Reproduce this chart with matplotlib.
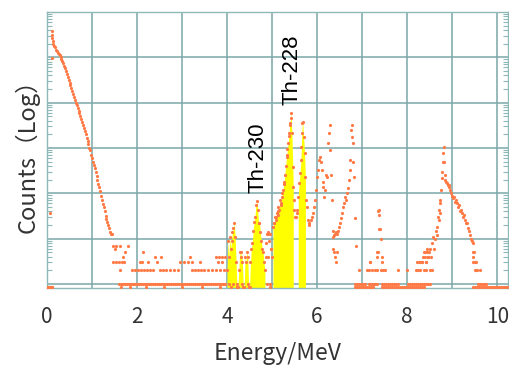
import matplotlib.pyplot as plt
import numpy as np

plt.rcParams['font.family'] = ['Noto Sans CJK JP', 'DejaVu Sans']

# --- spectrum (energy in MeV, counts) ---
# low-energy tail
decay_energy = [0.11, 0.12, 0.12, 0.13, 0.14, 0.16, 0.18, 0.20, 0.22, 0.24, 0.26, 0.28,
                0.30, 0.32, 0.34, 0.36, 0.38, 0.40, 0.42, 0.44, 0.46, 0.48, 0.50, 0.52,
                0.54, 0.56, 0.58, 0.60, 0.62, 0.64, 0.66, 0.68, 0.70, 0.72, 0.74, 0.76,
                0.78, 0.80, 0.82, 0.84, 0.86, 0.88, 0.90, 0.92, 0.94, 0.96, 0.98, 1.00,
                1.02, 1.04, 1.06, 1.08, 1.10, 1.12, 1.14, 1.16, 1.18, 1.20, 1.22, 1.24,
                1.26, 1.28, 1.30, 1.32, 1.34, 1.36, 1.38, 1.40, 1.42, 1.44]
decay_counts = [380000, 316000, 263000, 224000, 195000, 178000, 166000, 148000, 135000,
                126000, 120000, 112000, 102000, 93000, 83000, 74000, 66000, 58000, 49000,
                43000, 37000, 32000, 27500, 24000, 21000, 17800, 15500, 13500, 11500,
                10000, 8700, 7600, 6600, 5800, 5000, 4300, 3700, 3200, 2750, 2350, 2000,
                1660, 1410, 1200, 1020, 890, 720, 590, 490, 420, 355, 295, 240, 195, 162,
                135, 112, 89, 71, 59, 49, 40, 32, 27, 23, 20, 17, 14, 13, 13]
stray_energy = [0.11, 0.07]
stray_counts = [95000, 37]

# Th-230 region of interest (yellow)
th230_energy = [4.00, 4.02, 4.04, 4.06, 4.08, 4.10, 4.12, 4.14, 4.16, 4.18, 4.20, 4.22,
                4.24, 4.26, 4.28, 4.30, 4.32, 4.34, 4.36, 4.38, 4.40, 4.42, 4.44, 4.46,
                4.48, 4.50, 4.52, 4.54, 4.56, 4.58, 4.60, 4.62, 4.64, 4.66, 4.68, 4.70,
                4.72, 4.74, 4.76, 4.78, 4.80, 4.82, 4.84]
th230_counts = [2, 9, 4, 11, 6, 9, 14, 17, 22, 11, 3, 0, 0, 2, 5, 4, 5, 3, 0, 0, 4, 3,
                5, 4, 0, 0, 3, 6, 8, 15, 23, 30, 55, 67, 43, 22, 22, 14, 9, 6, 5, 3, 2]

# Th-228 regions of interest (yellow)
th228_energy = [5.02, 5.04, 5.05, 5.06, 5.08, 5.09, 5.10, 5.12, 5.13, 5.14, 5.16, 5.18,
                5.19, 5.20, 5.22, 5.23, 5.24, 5.26, 5.27, 5.28, 5.30, 5.32, 5.33, 5.34,
                5.36, 5.37, 5.38, 5.39, 5.40, 5.41, 5.42, 5.44, 5.46, 5.47]
th228_counts = [18, 22, 22, 30, 26, 30, 37, 33, 40, 50, 43, 71, 55, 61, 83, 100, 117,
                160, 180, 250, 400, 620, 700, 950, 1280, 1800, 2130, 3170, 3500, 4550,
                5890, 2130, 380, 138]
ra224_energy = [5.58, 5.60, 5.62, 5.64, 5.65, 5.66, 5.67, 5.68, 5.70, 5.72, 5.74]
ra224_counts = [83, 167, 278, 540, 1040, 2130, 3530, 3700, 1730, 770, 228]

# other peaks
mid_energy = [4.86, 4.86, 4.88, 4.90, 4.91, 4.92, 4.94, 4.96, 4.98, 5.00,
              5.48, 5.49, 5.51, 5.53, 5.55, 5.56,
              5.76, 5.78, 5.79, 5.81, 5.83, 5.86, 5.88, 5.91, 5.93, 5.96, 5.98,
              6.00, 6.02, 6.04, 6.06, 6.08, 6.10, 6.12, 6.14, 6.16, 6.18, 6.20, 6.22,
              6.24, 6.26, 6.28, 6.29, 6.31, 6.33,
              6.35, 6.36, 6.36, 6.38, 6.38, 6.40, 6.40, 6.42, 6.43, 6.44, 6.45, 6.47, 6.49,
              6.51, 6.53, 6.56, 6.58, 6.60, 6.62, 6.64, 6.67, 6.69, 6.71, 6.73, 6.74,
              6.76, 6.77, 6.78, 6.79, 6.80, 6.82, 6.84, 6.87]
mid_counts = [8, 4, 13, 13, 4, 14, 9, 13, 6, 4,
              71, 43, 30, 30, 37, 43,
              71, 50, 26, 20, 22, 26, 30, 37, 50, 71, 118,
              228, 325, 540, 625, 490, 325, 178, 137, 83, 118, 250, 228,
              1280, 2130, 3170, 890, 250, 71,
              15, 11, 6, 12, 5, 13, 4, 3, 14, 5, 13, 15, 18,
              22, 28, 37, 50, 61, 83, 71, 100, 130, 195, 325, 540,
              2460, 3170, 1730, 1280, 490, 228, 28, 7]
peak74_energy = [7.18, 7.33, 7.35, 7.36, 7.37, 7.38, 7.38, 7.39, 7.42, 7.44]
peak74_counts = [3, 2, 5, 40, 43, 33, 16, 16, 10, 4]
peak9_energy = [8.24, 8.29, 8.33, 8.36, 8.40, 8.42, 8.44, 8.47, 8.49, 8.51, 8.53, 8.56,
                8.58, 8.60, 8.62, 8.64, 8.66, 8.67, 8.69, 8.70, 8.71, 8.72, 8.73, 8.74,
                8.76, 8.77, 8.78, 8.79, 8.80, 8.81, 8.82, 8.84, 8.85, 8.87, 8.89, 8.91,
                8.93, 8.94, 8.96, 8.98, 9.00, 9.02, 9.04, 9.07, 9.09, 9.11, 9.13, 9.16,
                9.18, 9.20, 9.22, 9.24, 9.27, 9.29, 9.31, 9.33, 9.36, 9.38, 9.40, 9.42,
                9.44, 9.47, 9.49, 9.51, 9.53]
peak9_counts = [2, 3, 3, 4, 5, 3, 6, 4, 5, 6, 4, 8, 11, 6, 10, 15, 12, 18, 30, 26, 43,
                37, 71, 61, 118, 215, 300, 490, 770, 1040, 490, 250, 195, 178, 167, 150,
                137, 150, 118, 100, 89, 78, 83, 66, 71, 61, 50, 55, 40, 43, 37, 30, 33,
                26, 22, 22, 17, 15, 12, 10, 9, 8, 5, 3, 2]

# flat low-count channels, one list per count level
row0_energy = [0.00, 0.02, 0.04, 0.06, 0.08, 0.10, 0.12, 1.65, 1.85, 2.20, 2.60, 3.00,
               3.45, 3.85, 4.09, 4.21, 4.37, 4.49, 4.96,
               6.84, 6.89, 6.93, 6.98, 7.02, 7.07, 7.11, 7.16, 7.20, 7.24, 7.44, 7.49,
               7.53, 7.58, 7.62, 7.67, 7.71, 7.76, 7.80, 7.84, 7.89, 7.93, 7.98, 8.02,
               8.07, 8.11, 8.16, 8.20, 8.24, 8.29, 8.33, 8.38, 9.47, 9.51, 9.56, 9.60,
               9.64, 9.69, 9.73, 9.78, 9.82, 9.87, 9.91, 9.96, 10.00, 10.04, 10.09,
               10.13, 10.18, 10.22]
row1_energy = [1.60, 1.64, 1.69, 1.73, 1.78, 1.82, 1.87, 1.91, 1.96, 2.00, 2.04, 2.09,
               2.13, 2.18, 2.22, 2.27, 2.31, 2.36, 2.40, 2.44, 2.49, 2.53, 2.58, 2.62,
               2.67, 2.71, 2.76, 2.80, 2.84, 2.89, 2.93, 2.98, 3.02, 3.07, 3.11, 3.16,
               3.20, 3.24, 3.29, 3.33, 3.38, 3.42, 3.47, 3.51, 3.56, 3.60, 3.64, 3.69,
               3.73, 3.78, 3.82, 3.87, 3.91, 3.96, 4.05, 4.13, 4.23, 4.33, 4.47, 4.88,
               4.95, 6.84, 6.89, 6.93, 6.98, 7.02, 7.07, 7.16, 7.20, 7.24, 7.29, 7.33,
               7.44, 7.49, 7.53, 7.58, 7.62, 7.67, 7.71, 7.76, 7.80, 8.02, 8.07, 8.11,
               8.16, 8.20, 8.24, 8.29, 8.33, 8.38, 8.42, 8.47, 8.51, 9.58, 9.62, 9.67,
               9.71, 9.76]
row2_energy = [1.62, 1.89, 1.96, 2.02, 2.09, 2.16, 2.22, 2.29, 2.36, 2.51, 2.58, 2.64,
               2.73, 2.82, 2.91, 3.22, 3.29, 3.36, 3.42, 3.49, 3.58, 3.67, 3.76, 3.84,
               3.93, 6.93, 7.11, 7.16, 7.22, 7.29, 7.42, 7.47, 7.51, 7.80, 8.00, 8.20,
               8.29, 8.38, 8.42, 8.51, 8.56, 9.51, 9.56, 9.62]
row3_energy = [1.47, 1.53, 1.60, 1.67, 1.71, 2.07, 2.11, 2.24, 2.44, 2.96, 3.04, 3.13,
               3.22, 3.40, 3.80, 3.89, 7.18, 7.44, 8.22, 8.27, 8.33, 8.42, 9.47, 9.53]
row4_energy = [1.69, 2.40, 2.53, 3.18, 3.76, 3.82, 3.89, 3.96, 7.33, 8.40, 8.47, 9.47]
row5_energy = [1.73, 2.13, 7.33, 8.38, 8.44, 9.47]
row6_energy = [1.50, 4.98]
row7_energy = [1.47, 1.53, 1.62, 1.80]

ylim_low, ylim_high = 0.82, 1e6
zero_level = 0.86   # where empty channels sit on the log axis

energy = np.concatenate([decay_energy, stray_energy, th230_energy, th228_energy,
                         ra224_energy, mid_energy, peak74_energy, peak9_energy])
counts = np.concatenate([decay_counts, stray_counts, th230_counts, th228_counts,
                         ra224_counts, mid_counts, peak74_counts, peak9_counts])
for level, row in enumerate([row0_energy, row1_energy, row2_energy, row3_energy,
                             row4_energy, row5_energy, row6_energy, row7_energy]):
    energy = np.concatenate([energy, row])
    counts = np.concatenate([counts, [level] * len(row)])

fig = plt.figure(figsize=(5.09, 3.65), dpi=100)
ax = fig.add_axes([47 / 509, 1 - 288 / 365, 461 / 509, 276 / 365])
ax.set_yscale('log')

# yellow ROI areas
for e, c in [(th230_energy, th230_counts), (th228_energy, th228_counts),
             (ra224_energy, ra224_counts)]:
    c = np.clip(np.array(c, dtype=float), zero_level, None)
    ax.fill_between(e, ylim_low, c, color='#ffff00', lw=0, zorder=2)

ax.plot(energy, np.clip(counts, zero_level, None), 'o', color='#ff7a45', ms=2.3,
        mec='none', zorder=3)

ax.text(4.68, 100, 'Th-230', rotation=90, ha='center', va='bottom', fontsize=16,
        family='Liberation Sans', color='black', zorder=4)
ax.text(5.44, 8700, 'Th-228', rotation=90, ha='center', va='bottom', fontsize=16,
        family='Liberation Sans', color='black', zorder=4)

ax.set_xlim(0, 10.24)
ax.set_ylim(ylim_low, ylim_high)

grid_col = '#7ba7a7'
ax.set_xticks(np.arange(0, 11, 1))
ax.set_xticklabels(['0', '', '2', '', '4', '', '6', '', '8', '', '10'])
ax.set_yticks([1, 10, 100, 1000, 1e4, 1e5, 1e6])
ax.set_yticklabels([])
ax.grid(True, which='major', color=grid_col, lw=1.1, zorder=1)
ax.tick_params(axis='x', length=0, pad=13, labelsize=15, labelcolor='#333333')
ax.tick_params(axis='y', which='major', length=0)
ax.tick_params(axis='y', which='minor', direction='in', length=3.5, width=0.8,
               color='#8fb8b8', left=True, right=True, labelleft=False)
for s in ax.spines.values():
    s.set_color('#8fb8b8')
    s.set_linewidth(1.0)

ax.set_xlabel('Energy/MeV', fontsize=16.5, color='#333333', labelpad=10)
ax.set_ylabel('Counts（Log）', fontsize=17, color='#333333', labelpad=2)

fig.savefig('out.png', dpi=100)
